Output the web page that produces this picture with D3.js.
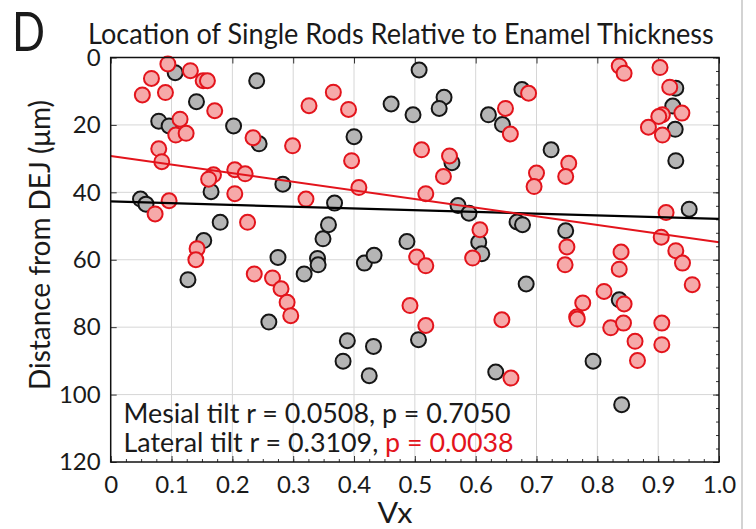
<!DOCTYPE html>
<html>
<head>
<meta charset="utf-8">
<script src="https://cdn.jsdelivr.net/npm/d3@7"></script>
<style>
  body { margin: 0; background: #fff; }
  svg { display: block; font-family: Lato, "Open Sans", sans-serif; }
  .tick text { font-family: Lato, sans-serif; font-size: 24px; fill: #1a1a1a; }
</style>
</head>
<body>
<script>
// values
const mesialVx = [0.106, 0.240, 0.141, 0.079, 0.096, 0.202, 0.244, 0.283, 0.165, 0.049, 0.058, 0.180, 0.153, 0.349, 0.275, 0.127, 0.260, 0.318, 0.340, 0.341, 0.417, 0.433, 0.487, 0.605, 0.610, 0.506, 0.389, 0.432, 0.382, 0.425, 0.633, 0.507, 0.461, 0.497, 0.548, 0.540, 0.621, 0.644, 0.676, 0.400, 0.561, 0.368, 0.571, 0.589, 0.668, 0.677, 0.358, 0.724, 0.929, 0.924, 0.928, 0.929, 0.951, 0.748, 0.683, 0.836, 0.793, 0.840]
const mesialDepth = [4.5, 6.9, 13.1, 18.9, 20.3, 20.3, 25.6, 37.6, 39.8, 42.0, 43.5, 48.9, 54.3, 53.8, 59.3, 65.9, 78.5, 64.2, 59.6, 61.5, 61.0, 58.7, 54.6, 54.8, 58.2, 83.7, 84.0, 85.7, 90.1, 94.4, 93.3, 3.7, 13.8, 17.0, 11.8, 15.1, 17.0, 19.9, 9.5, 23.5, 31.2, 43.2, 43.9, 46.2, 48.8, 49.6, 49.6, 27.4, 9.1, 14.4, 21.3, 30.6, 45.0, 51.4, 67.2, 71.9, 90.1, 103.0]

const lateralVx = [0.094, 0.131, 0.067, 0.152, 0.159, 0.052, 0.090, 0.171, 0.326, 0.114, 0.107, 0.124, 0.234, 0.299, 0.079, 0.084, 0.169, 0.161, 0.204, 0.221, 0.204, 0.321, 0.096, 0.073, 0.225, 0.142, 0.140, 0.236, 0.266, 0.280, 0.290, 0.296, 0.503, 0.518, 0.595, 0.492, 0.518, 0.643, 0.658, 0.366, 0.391, 0.649, 0.657, 0.396, 0.511, 0.557, 0.547, 0.408, 0.518, 0.607, 0.836, 0.844, 0.903, 0.687, 0.919, 0.939, 0.907, 0.901, 0.884, 0.907, 0.753, 0.700, 0.748, 0.696, 0.913, 0.905, 0.750, 0.839, 0.929, 0.747, 0.836, 0.940, 0.956, 0.811, 0.776, 0.844, 0.766, 0.767, 0.822, 0.843, 0.906, 0.862, 0.906, 0.866]
const lateralDepth = [1.9, 3.9, 6.2, 6.9, 6.9, 11.1, 10.4, 15.8, 14.3, 18.3, 23.0, 22.5, 23.8, 26.2, 27.1, 30.9, 34.8, 36.1, 33.3, 34.5, 40.4, 42.0, 42.5, 46.4, 48.9, 56.7, 60.0, 64.2, 65.4, 68.6, 72.6, 76.6, 59.2, 61.8, 59.5, 73.6, 79.5, 77.8, 95.1, 10.3, 15.4, 15.1, 22.7, 30.6, 27.4, 29.2, 35.3, 38.6, 40.4, 51.1, 2.5, 4.7, 3.0, 10.6, 8.8, 16.5, 17.0, 17.5, 20.7, 23.0, 31.4, 34.3, 35.3, 38.3, 46.0, 53.3, 56.2, 57.7, 57.3, 61.5, 62.8, 61.0, 67.4, 69.4, 72.8, 73.1, 77.0, 77.6, 80.2, 78.8, 78.8, 84.2, 85.2, 89.9]

// regression lines, depth at Vx = 0 and Vx = 1
const fitVx = [0, 1]
const mesialFit = [42.7, 47.9]
const lateralFit = [29.2, 54.8]

const xTickValues = [0, 0.1, 0.2, 0.3, 0.4, 0.5, 0.6, 0.7, 0.8, 0.9, 1.0]
const xTickLabels = ['0', '0.1', '0.2', '0.3', '0.4', '0.5', '0.6', '0.7', '0.8', '0.9', '1.0']
const yTickValues = [0, 20, 40, 60, 80, 100, 120]

const mesialText = 'Mesial tilt r = 0.0508, p = 0.7050'
const lateralText = ['Lateral tilt r = 0.3109, ', 'p = 0.0038']

const W = 756, H = 529
const svg = d3.select('body').append('svg').attr('width', W).attr('height', H)

let x = d3.scaleLinear().domain([0, 1]).range([110.7, 719])
let y = d3.scaleLinear().domain([0, 120]).range([57.5, 462])

// grey page edge on the right
svg.append('line')
    .attr('x1', 742).attr('x2', 742).attr('y1', 0).attr('y2', H)
    .attr('stroke', '#c4c4c4').attr('stroke-width', 1.5)

// grid
svg.append('g').selectAll('line')
    .data(xTickValues.slice(1, -1))
    .join('line')
    .attr('x1', d => x(d)).attr('x2', d => x(d))
    .attr('y1', y(0)).attr('y2', y(120))
    .attr('stroke', '#d6d6d6').attr('stroke-width', 1)
svg.append('g').selectAll('line')
    .data(yTickValues.slice(1, -1))
    .join('line')
    .attr('x1', x(0)).attr('x2', x(1))
    .attr('y1', d => y(d)).attr('y2', d => y(d))
    .attr('stroke', '#d6d6d6').attr('stroke-width', 1)

// axes, ticks pointing inward
let minorX = d3.range(0, 41).map(i => i / 40)
let minorY = d3.range(0, 31).map(i => i * 4)
let axisBottom = d3.axisBottom(x).tickValues(xTickValues)
    .tickFormat((d, i) => xTickLabels[i]).tickSizeInner(-6).tickSizeOuter(0).tickPadding(14)
let axisLeft = d3.axisLeft(y).tickValues(yTickValues)
    .tickFormat(d3.format('d')).tickSizeInner(-6).tickSizeOuter(0).tickPadding(10)

svg.append('g').attr('transform', 'translate(0,' + y(120) + ')').call(axisBottom)
svg.append('g').attr('transform', 'translate(' + x(0) + ',0)').call(axisLeft)
svg.append('g').attr('transform', 'translate(0,' + y(120) + ')')
    .call(d3.axisBottom(x).tickValues(minorX).tickSize(-3).tickFormat(''))
svg.append('g').attr('transform', 'translate(' + x(1) + ',0)')
    .call(d3.axisRight(y).tickValues(minorY).tickSize(-3).tickFormat(''))
svg.append('g').attr('transform', 'translate(' + x(1) + ',0)')
    .call(d3.axisRight(y).tickValues(yTickValues).tickSize(-6).tickFormat(''))
svg.append('g').attr('transform', 'translate(0,' + y(0) + ')')
    .call(d3.axisTop(x).tickValues(xTickValues).tickSize(-6).tickFormat(''))
svg.selectAll('.domain').remove()
svg.selectAll('.tick line').attr('stroke', '#333')

// points: mesial first, lateral on top
svg.append('g').selectAll('circle')
    .data(mesialVx.map((v, i) => [v, mesialDepth[i]]))
    .join('circle')
    .attr('cx', d => x(d[0])).attr('cy', d => y(d[1])).attr('r', 7.5)
    .attr('fill', '#b5b5b5').attr('stroke', '#151515').attr('stroke-width', 2)
svg.append('g').selectAll('circle')
    .data(lateralVx.map((v, i) => [v, lateralDepth[i]]))
    .join('circle')
    .attr('cx', d => x(d[0])).attr('cy', d => y(d[1])).attr('r', 7.5)
    .attr('fill', '#f6a9a9').attr('stroke', '#e3141c').attr('stroke-width', 2)

// fit lines
let line = d3.line().x(d => x(d[0])).y(d => y(d[1]))
svg.append('path').datum(fitVx.map((v, i) => [v, mesialFit[i]]))
    .attr('d', line).attr('stroke', '#000').attr('stroke-width', 2.2).attr('fill', 'none')
svg.append('path').datum(fitVx.map((v, i) => [v, lateralFit[i]]))
    .attr('d', line).attr('stroke', '#e3141c').attr('stroke-width', 2).attr('fill', 'none')

// frame
svg.append('rect')
    .attr('x', x(0)).attr('y', y(0))
    .attr('width', x(1) - x(0)).attr('height', y(120) - y(0))
    .attr('fill', 'none').attr('stroke', '#111').attr('stroke-width', 1.5)

// text squeezed to the width it has in the figure
const CAP = 0.7165
function place(el, px, py, capH, width, anchor, rot) {
    el.attr('x', 0).attr('y', 0)
        .attr('font-size', capH / CAP)
        .attr('text-anchor', anchor || 'start')
        .attr('fill', '#1a1a1a')
    let w = el.node().getComputedTextLength()
    let k = width / w
    el.attr('transform', 'translate(' + px + ',' + py + ')' + (rot ? ' rotate(' + rot + ')' : '') + ' scale(' + k + ',1)')
    return el
}

place(svg.append('text').text('D'), 12, 51, 39, 33)
place(svg.append('text').text('Location of Single Rods Relative to Enamel Thickness'), 88, 44, 20.5, 626)
place(svg.append('text').text('Distance from DEJ (\u03bcm)'), 50, 245, 21, 290, 'middle', -90)
place(svg.append('text').text('Vx'), 395, 523, 21, 35, 'middle')

place(svg.append('text').text(mesialText), 123.5, 423, 19.5, 387)
let lat = svg.append('text')
lat.append('tspan').text(lateralText[0])
lat.append('tspan').text(lateralText[1])
place(lat, 123.5, 452, 19.5, 390)
lat.select('tspan:last-child').attr('fill', '#e3141c')
</script>
</body>
</html>
